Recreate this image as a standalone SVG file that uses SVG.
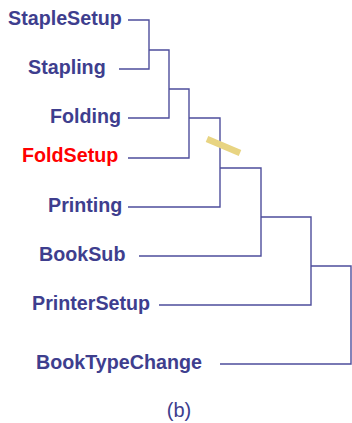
<svg xmlns="http://www.w3.org/2000/svg" width="352" height="423" viewBox="0 0 352 423">
  <style>
    .lbl { font-family: "Liberation Sans", Arial, sans-serif; font-weight: bold; font-size: 19.7px; fill: #3e3e8e; }
    .hot { fill: #ff0000; }
    .cap { font-family: "Liberation Sans", Arial, sans-serif; font-size: 20px; fill: #3e3e8e; text-anchor: middle; }
    .edge { fill: none; stroke: #4e4e9c; stroke-width: 1.4; }
  </style>
  <rect width="352" height="423" fill="#ffffff"/>

  <g id="connectors">
    <!-- one elbow per merge: upper stub, vertical, lower stub -->
    <path class="edge" d="M128 20 H149 V69 H119"/>
    <path class="edge" d="M149 50 H169 V118 H128"/>
    <path class="edge" d="M169 89 H189 V158 H128"/>
    <path class="edge" d="M189 118 H220 V207 H128"/>
    <path class="edge" d="M220 168 H261 V256 H139"/>
    <path class="edge" d="M261 217 H311 V305 H159"/>
    <path class="edge" d="M311 266 H351 V364 H220"/>
  </g>

  <!-- cut marker on the FoldSetup branch -->
  <g id="cut">
    <line x1="207" y1="139" x2="240" y2="153" stroke="#e8d482" stroke-width="6.5"/>
  </g>

  <g id="StapleSetup"><text class="lbl" x="8" y="25">StapleSetup</text></g>
  <g id="Stapling"><text class="lbl" x="28" y="74">Stapling</text></g>
  <g id="Folding"><text class="lbl" x="50" y="123">Folding</text></g>
  <g id="FoldSetup"><text class="lbl hot" x="22" y="162">FoldSetup</text></g>
  <g id="Printing"><text class="lbl" x="48" y="212">Printing</text></g>
  <g id="BookSub"><text class="lbl" x="39" y="261">BookSub</text></g>
  <g id="PrinterSetup"><text class="lbl" x="32" y="310">PrinterSetup</text></g>
  <g id="BookTypeChange"><text class="lbl" x="36" y="369">BookTypeChange</text></g>

  <text class="cap" x="179" y="417">(b)</text>
</svg>
